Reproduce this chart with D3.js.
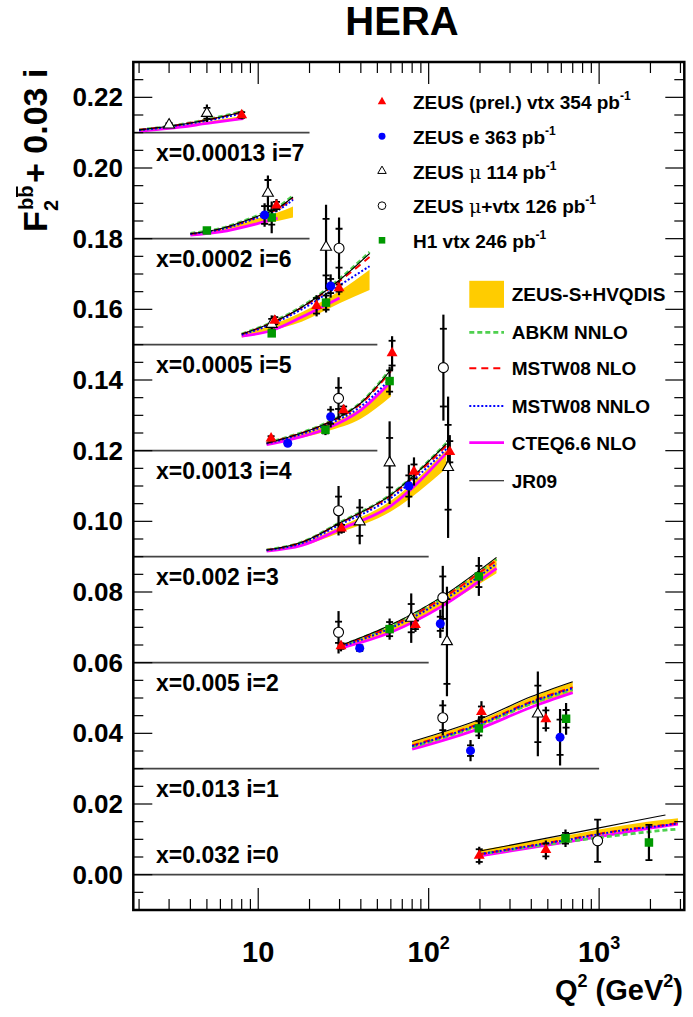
<!DOCTYPE html>
<html>
<head>
<meta charset="utf-8">
<script src="https://cdn.jsdelivr.net/npm/d3@7"></script>
<style>
  body { margin: 0; background: #fff; }
  text { font-family: "Liberation Sans", Arial, Helvetica, sans-serif; font-weight: bold; fill: #000; }
</style>
</head>
<body>
<svg width="693" height="1017"></svg>
<script>
// ---- data, bins indexed by i = 0..7 ----
const binLabels = ["x=0.032 i=0", "x=0.013 i=1", "x=0.005 i=2", "x=0.002 i=3",
  "x=0.0013 i=4", "x=0.0005 i=5", "x=0.0002 i=6", "x=0.00013 i=7"];
const binLineEnd = [null, 1000, 100, 100, 50, 50, 20, 20]; // Q2 where the offset line stops

const theoryQ2 = [
  [200, 640, 1500, 2450, 2900],
  [80, 200, 400, 700],
  [31, 60, 120, 250],
  [11.2, 18, 30, 60, 127],
  [11.2, 15, 25, 40, 60],
  [8, 12, 18, 30, 45],
  [4, 6, 10, 13, 16],
  [2, 3, 5, 8.2]
];
const bandLow = [
  [0.0051, 0.0098, 0.0124, 0.0137, 0.0141],
  [0.0358, 0.0420, 0.0480, 0.0515],
  [0.0643, 0.0688, 0.0760, 0.0853],
  [0.0915, 0.0930, 0.0968, 0.1028, 0.1150],
  [0.1216, 0.1228, 0.1254, 0.1290, 0.1353],
  [0.1520, 0.1540, 0.1565, 0.1617, 0.1655],
  [0.1810, 0.1820, 0.1842, 0.1850, 0.1860],
  [0.2104, 0.2112, 0.2125, 0.2137]
];
const bandHigh = [
  [0.0070, 0.0111, 0.0142, 0.0156, 0.0160],
  [0.0376, 0.0438, 0.0502, 0.0545],
  [0.0652, 0.0704, 0.0783, 0.0896],
  [0.0919, 0.0938, 0.0985, 0.1058, 0.1202],
  [0.1221, 0.1236, 0.1272, 0.1320, 0.1391],
  [0.1528, 0.1556, 0.1592, 0.1652, 0.1712],
  [0.1814, 0.1826, 0.1858, 0.1874, 0.1891],
  [0.2107, 0.2116, 0.2131, 0.2148]
];
const abkm = [
  [0.0058, 0.0093, 0.0115, 0.0126, 0.0129],
  [0.0362, 0.0423, 0.0484, 0.0524],
  [0.0649, 0.0705, 0.0784, 0.0893],
  [0.0919, 0.0941, 0.0996, 0.1076, 0.1221],
  [0.1222, 0.1239, 0.1278, 0.1336, 0.1432],
  [0.1530, 0.1563, 0.1608, 0.1686, 0.1762],
  [0.1815, 0.1829, 0.1866, 0.1889, 0.1922],
  [0.2108, 0.2118, 0.2137, 0.2161]
];
const mstwNlo = [
  [0.0058, 0.0099, 0.0129, 0.0141, 0.0146],
  [0.0366, 0.0428, 0.0490, 0.0530],
  [0.0648, 0.0703, 0.0782, 0.0890],
  [0.0919, 0.0940, 0.0994, 0.1073, 0.1214],
  [0.1221, 0.1238, 0.1276, 0.1333, 0.1425],
  [0.1529, 0.1561, 0.1605, 0.1680, 0.1748],
  [0.1813, 0.1827, 0.1862, 0.1884, 0.1914],
  [0.2108, 0.2118, 0.2136, 0.2158]
];
const mstwNnlo = [
  [0.0058, 0.0098, 0.0128, 0.0140, 0.0145],
  [0.0364, 0.0426, 0.0488, 0.0528],
  [0.0646, 0.0698, 0.0775, 0.0880],
  [0.0918, 0.0938, 0.0990, 0.1066, 0.1205],
  [0.1220, 0.1236, 0.1272, 0.1325, 0.1405],
  [0.1528, 0.1558, 0.1600, 0.1668, 0.1722],
  [0.1813, 0.1826, 0.1860, 0.1880, 0.1910],
  [0.2107, 0.2117, 0.2134, 0.2155]
];
const cteq = [
  [0.0053, 0.0092, 0.0122, 0.0138, 0.0143],
  [0.0355, 0.0414, 0.0474, 0.0515],
  [0.0642, 0.0686, 0.0760, 0.0867],
  [0.0916, 0.0932, 0.0977, 0.1044, 0.1193],
  [0.1217, 0.1230, 0.1262, 0.1315, 0.1395],
  [0.1524, 0.1540, 0.1578, 0.1632, null],
  [0.1810, 0.1819, 0.1843, 0.1858, null],
  [0.2104, 0.2112, 0.2126, 0.2140]
];
const jr09 = [
  [0.0067, 0.0114, 0.0149, 0.0169, null],
  [0.0377, 0.0440, 0.0504, 0.0546],
  [0.0650, 0.0707, 0.0787, 0.0898],
  [0.0919, 0.0941, 0.0995, 0.1075, 0.1219],
  [0.1221, 0.1238, 0.1277, 0.1335, 0.1429],
  [0.1530, 0.1562, 0.1606, 0.1683, 0.1758],
  [0.1814, 0.1828, 0.1864, 0.1886, 0.1918],
  [0.2108, 0.2118, 0.2136, 0.2159]
];

// measurements: [Q2, F2bb + 0.03 i, stat, total]
const zeusVtx = [
  [8.0, 0.2150, 0.0008, 0.0012], [12.8, 0.1894, 0.0010, 0.0018],
  [12.5, 0.1568, 0.0010, 0.0015], [22, 0.1610, 0.0022, 0.0030], [29.8, 0.1660, 0.0010, 0.0020],
  [11.9, 0.1235, 0.0006, 0.0008], [31.7, 0.1315, 0.0010, 0.0015], [61, 0.1476, 0.0035, 0.0048],
  [30.8, 0.0980, 0.0010, 0.0015], [82, 0.1141, 0.0020, 0.0040], [133, 0.1197, 0.0030, 0.0047],
  [30.6, 0.0647, 0.0008, 0.0015], [83.6, 0.0707, 0.0012, 0.0020],
  [204, 0.0461, 0.0015, 0.0030], [487, 0.0440, 0.0025, 0.0035],
  [198, 0.0054, 0.0018, 0.0025], [487, 0.0070, 0.0018, 0.0027]
];
const zeusE = [
  [10.9, 0.1867, 0.0025, 0.0033], [26.6, 0.1666, 0.0020, 0.0033],
  [14.9, 0.1221, 0.0005, 0.0005], [26.6, 0.1296, 0.0020, 0.0030],
  [76.5, 0.1100, 0.0030, 0.0060],
  [39.4, 0.0641, 0.0008, 0.0010], [117, 0.0710, 0.0020, 0.0040],
  [176, 0.0351, 0.0015, 0.0030], [590, 0.0389, 0.0050, 0.0080]
];
const zeusMu = [
  [3.0, 0.2122, 0.0005, 0.0008], [5.0, 0.2155, 0.0015, 0.0025],
  [11.4, 0.1929, 0.0037, 0.0050],
  [12.0, 0.1558, 0.0015, 0.0025], [25, 0.1776, 0.0080, 0.0120],
  [39.4, 0.0999, 0.0040, 0.0064], [59, 0.1166, 0.0070, 0.0117], [130, 0.1153, 0.0120, 0.0200],
  [79, 0.0726, 0.0040, 0.0070], [128, 0.0660, 0.0120, 0.0155],
  [437, 0.0455, 0.0080, 0.0120]
];
const zeusMuVtx = [
  [29.8, 0.1773, 0.0055, 0.0087],
  [29.6, 0.1348, 0.0030, 0.0060],
  [29.6, 0.1030, 0.0040, 0.0070], [122, 0.1435, 0.0110, 0.0150],
  [29.6, 0.0686, 0.0030, 0.0060], [121, 0.0784, 0.0060, 0.0090],
  [121, 0.0444, 0.0035, 0.0050],
  [980, 0.0096, 0.0060, 0.0060]
];
const h1Vtx = [
  [5.0, 0.1823, 0.0004, 0.0004], [12.0, 0.1860, 0.0020, 0.0045],
  [12.0, 0.1532, 0.0005, 0.0008], [25, 0.1619, 0.0020, 0.0028],
  [24.8, 0.1259, 0.0010, 0.0015], [59, 0.1397, 0.0030, 0.0040],
  [59, 0.0695, 0.0020, 0.0030], [197, 0.0844, 0.0030, 0.0055],
  [197, 0.0414, 0.0020, 0.0030], [640, 0.0441, 0.0025, 0.0045],
  [635, 0.0103, 0.0015, 0.0025], [1960, 0.0091, 0.0050, 0.0052]
];

// ---- setup ----
const svg = d3.select("svg");
const mLeft = 133.3, mRight = 684.3, mTop = 62, mBottom = 910;
const x = d3.scaleLog().domain([1.85, 3160]).range([mLeft, mRight]);
const y = d3.scaleLinear().domain([-0.01, 0.23]).range([mBottom, mTop]);

svg.append("defs").append("clipPath").attr("id", "clip")
  .append("rect").attr("x", mLeft).attr("y", mTop)
  .attr("width", mRight - mLeft).attr("height", mBottom - mTop);

const plot = svg.append("g").attr("clip-path", "url(#clip)");

// offset lines and bin labels
d3.range(8).forEach(i => {
  const xe = binLineEnd[i] ? x(binLineEnd[i]) : mRight;
  plot.append("line")
    .attr("x1", mLeft).attr("x2", xe)
    .attr("y1", y(0.03 * i)).attr("y2", y(0.03 * i))
    .attr("stroke", "#444").attr("stroke-width", 1.6);
  svg.append("text")
    .attr("x", 156)
    .attr("y", i === 0 ? y(0) - 11.5 : y(0.03 * i) + 28)
    .attr("font-size", 23)
    .text(binLabels[i]);
});

// theory
const models = [
  { vals: cteq, color: "#ff00ff", width: 2.8, dash: null },
  { vals: abkm, color: "#4fd04f", width: 2.8, dash: "5,3" },
  { vals: mstwNlo, color: "#ff0000", width: 2, dash: "7,5" },
  { vals: mstwNnlo, color: "#0000ff", width: 2, dash: "2,2" },
  { vals: jr09, color: "#000000", width: 1.1, dash: null }
];

const area = d3.area()
  .x(d => x(d.q)).y0(d => y(d.lo)).y1(d => y(d.hi))
  .curve(d3.curveMonotoneX);
const line = d3.line()
  .defined(d => d.v != null)
  .x(d => x(d.q)).y(d => y(d.v))
  .curve(d3.curveMonotoneX);

d3.range(8).forEach(i => {
  const q = theoryQ2[i];
  plot.append("path")
    .datum(q.map((qq, k) => ({ q: qq, lo: bandLow[i][k], hi: bandHigh[i][k] })))
    .attr("d", area)
    .attr("fill", "#ffcc00");
  models.forEach(m => {
    plot.append("path")
      .datum(q.map((qq, k) => ({ q: qq, v: m.vals[i][k] })))
      .attr("d", line)
      .attr("fill", "none")
      .attr("stroke", m.color)
      .attr("stroke-width", m.width)
      .attr("stroke-dasharray", m.dash);
  });
});

// measurements
const sets = [
  { data: h1Vtx, type: d3.symbolSquare, size: 72, fill: "#009900", stroke: "none" },
  { data: zeusMuVtx, type: d3.symbolCircle, size: 78, fill: "#fff", stroke: "#000" },
  { data: zeusMu, type: d3.symbolTriangle, size: 52, fill: "#fff", stroke: "#000" },
  { data: zeusE, type: d3.symbolCircle, size: 64, fill: "#0000ff", stroke: "none" },
  { data: zeusVtx, type: d3.symbolTriangle, size: 52, fill: "#ff0000", stroke: "none" }
];

const errs = plot.append("g");
sets.forEach(s => {
  s.data.forEach(d => {
    const px = x(d[0]);
    errs.append("line")
      .attr("x1", px).attr("x2", px)
      .attr("y1", y(d[1] - d[3])).attr("y2", y(d[1] + d[3]))
      .attr("stroke", "#000").attr("stroke-width", 2.2);
    [d[1] - d[2], d[1] + d[2]].forEach(v => {
      errs.append("line")
        .attr("x1", px - 3.5).attr("x2", px + 3.5)
        .attr("y1", y(v)).attr("y2", y(v))
        .attr("stroke", "#000").attr("stroke-width", 1.8);
    });
  });
});

sets.forEach(s => {
  plot.append("g").selectAll("path")
    .data(s.data)
    .join("path")
    .attr("transform", d => `translate(${x(d[0])},${y(d[1])})`)
    .attr("d", d3.symbol().type(s.type).size(s.size))
    .attr("fill", s.fill)
    .attr("stroke", s.stroke)
    .attr("stroke-width", 1.1);
});

// ---- axes / frame ----
const ax = svg.append("g").attr("stroke", "#000");
x.ticks().forEach(t => {
  const major = Math.abs(Math.log10(t) - Math.round(Math.log10(t))) < 1e-9;
  const len = major ? 22 : 11;
  ax.append("line").attr("x1", x(t)).attr("x2", x(t))
    .attr("y1", mBottom).attr("y2", mBottom - len).attr("stroke-width", 1.2);
  ax.append("line").attr("x1", x(t)).attr("x2", x(t))
    .attr("y1", mTop).attr("y2", mTop + len).attr("stroke-width", 1.2);
});
d3.range(-2, 47).forEach(k => {
  const v = k * 0.005;
  const len = k % 4 === 0 ? 19 : 10;
  ax.append("line").attr("x1", mLeft).attr("x2", mLeft + len)
    .attr("y1", y(v)).attr("y2", y(v)).attr("stroke-width", 1.2);
  ax.append("line").attr("x1", mRight).attr("x2", mRight - len)
    .attr("y1", y(v)).attr("y2", y(v)).attr("stroke-width", 1.2);
});
svg.append("rect")
  .attr("x", mLeft).attr("y", mTop)
  .attr("width", mRight - mLeft).attr("height", mBottom - mTop)
  .attr("fill", "none").attr("stroke", "#000").attr("stroke-width", 2.5);

// y tick labels
d3.range(0, 12).forEach(k => {
  svg.append("text")
    .attr("x", 123).attr("y", y(k * 0.02) + 9)
    .attr("text-anchor", "end").attr("font-size", 26)
    .text(d3.format(".2f")(k * 0.02));
});

// x tick labels
const xTickLabels = [[10, "10", ""], [100, "10", "2"], [1000, "10", "3"]];
xTickLabels.forEach(([v, base, sup]) => {
  const t = svg.append("text")
    .attr("x", x(v)).attr("y", 962)
    .attr("text-anchor", "middle").attr("font-size", 29)
    .text(base);
  if (sup) t.append("tspan").attr("font-size", 18).attr("dy", -13).text(sup);
});

// x axis title
const xt = svg.append("text").attr("x", 683).attr("y", 1000)
  .attr("text-anchor", "end").attr("font-size", 29);
xt.append("tspan").text("Q");
xt.append("tspan").attr("font-size", 18).attr("dy", -13).text("2");
xt.append("tspan").attr("dy", 13).text(" (GeV");
xt.append("tspan").attr("font-size", 18).attr("dy", -13).text("2");
xt.append("tspan").attr("dy", 13).text(")");

// y axis title
const yt = svg.append("g").attr("transform", "translate(47,232) rotate(-90)");
yt.append("text").attr("x", 0).attr("y", 0).attr("font-size", 34).text("F");
yt.append("text").attr("x", 22).attr("y", -14).attr("font-size", 20).text("bb");
yt.append("line").attr("x1", 35).attr("x2", 45.5).attr("y1", -30).attr("y2", -30)
  .attr("stroke", "#000").attr("stroke-width", 2);
yt.append("text").attr("x", 21).attr("y", 11).attr("font-size", 20).text("2");
yt.append("text").attr("x", 49).attr("y", 0).attr("font-size", 34).text("+ 0.03 i");

// title
svg.append("text").attr("x", 402).attr("y", 35)
  .attr("text-anchor", "middle").attr("font-size", 40).text("HERA");

// ---- legends ----
const expLegend = [
  { set: sets[4], pre: "ZEUS (prel.) vtx 354 pb", mu: null },
  { set: sets[3], pre: "ZEUS e 363 pb", mu: null },
  { set: sets[2], pre: "ZEUS ", mu: "\u03bc", post: " 114 pb" },
  { set: sets[1], pre: "ZEUS ", mu: "\u03bc", post: "+vtx 126 pb" },
  { set: sets[0], pre: "H1 vtx 246 pb", mu: null }
];
const expRowY = [101.7, 136.3, 171, 205.7, 240.3];
expLegend.forEach((e, k) => {
  const yy = expRowY[k];
  svg.append("path")
    .attr("transform", `translate(382,${yy})`)
    .attr("d", d3.symbol().type(e.set.type).size(e.set.size * 0.6))
    .attr("fill", e.set.fill).attr("stroke", e.set.stroke).attr("stroke-width", 1);
  const t = svg.append("text").attr("x", 413).attr("y", yy + 7.6).attr("font-size", 19);
  t.append("tspan").text(e.pre);
  if (e.mu) {
    t.append("tspan").attr("font-weight", "normal").attr("font-family", "DejaVu Serif").text(e.mu);
    t.append("tspan").text(e.post);
  }
  t.append("tspan").attr("font-size", 12).attr("dy", -9).text("-1");
});

const thLegend = [
  { label: "ZEUS-S+HVQDIS", band: true },
  { label: "ABKM NNLO", m: models[1] },
  { label: "MSTW08 NLO", m: models[2] },
  { label: "MSTW08 NNLO", m: models[3] },
  { label: "CTEQ6.6 NLO", m: models[0] },
  { label: "JR09", m: models[4] }
];
const thRowY = [294.3, 332.3, 368.3, 406, 442.7, 480.7];
thLegend.forEach((e, k) => {
  const yy = thRowY[k];
  if (e.band) {
    svg.append("rect").attr("x", 469.3).attr("y", yy - 13.5)
      .attr("width", 34.7).attr("height", 27).attr("fill", "#ffcc00");
  } else {
    svg.append("line").attr("x1", 469.3).attr("x2", 504)
      .attr("y1", yy).attr("y2", yy)
      .attr("stroke", e.m.color).attr("stroke-width", e.m.width)
      .attr("stroke-dasharray", e.m.dash);
  }
  svg.append("text").attr("x", 511.7).attr("y", yy + 7).attr("font-size", 19).text(e.label);
});
</script>
</body>
</html>
